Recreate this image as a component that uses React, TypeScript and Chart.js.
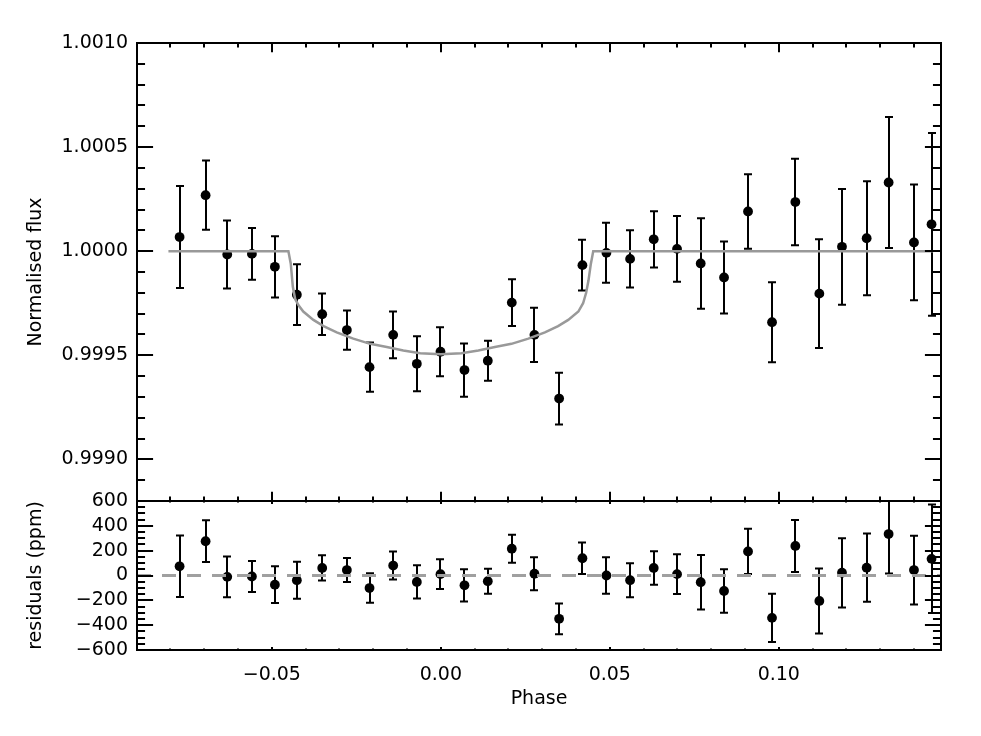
import React, { useEffect, useRef } from 'react';
import { Chart, registerables } from 'chart.js';

Chart.register(...registerables);

// ---- data ----
const phase = [-0.0773, -0.0696, -0.0632, -0.0559, -0.0491, -0.0426, -0.0351, -0.0278, -0.0211, -0.0141, -0.0071, -0.0001, 0.0070, 0.0139, 0.0210, 0.0277, 0.0350, 0.0419, 0.0490, 0.0560, 0.0630, 0.0699, 0.0769, 0.0838, 0.0909, 0.0980, 0.1049, 0.1120, 0.1187, 0.1260, 0.1325, 0.1400, 0.1452];
const flux = [1.000068, 1.000269, 0.999984, 0.999987, 0.999925, 0.999791, 0.999697, 0.999621, 0.999443, 0.999598, 0.999459, 0.999517, 0.999429, 0.999474, 0.999753, 0.999598, 0.999292, 0.999933, 0.999992, 0.999963, 1.000057, 1.000011, 0.999941, 0.999874, 1.000191, 0.999659, 1.000236, 0.999796, 1.000021, 1.000062, 1.00033, 1.000042, 1.000129];
const fluxErr = [0.000245, 0.000166, 0.000163, 0.000124, 0.000147, 0.000146, 0.0001, 0.000094, 0.000118, 0.000112, 0.000132, 0.000118, 0.000128, 0.000096, 0.000112, 0.00013, 0.000124, 0.000122, 0.000144, 0.000137, 0.000135, 0.000158, 0.000217, 0.000173, 0.000179, 0.000192, 0.000208, 0.000261, 0.000278, 0.000274, 0.000315, 0.000278, 0.000439];
const residual = [74, 276, -11, -8, -74, -38, 61, 44, -101, 80, -52, 11, -79, -46, 216, 14, -349, 139, 0, -38, 61, 11, -54, -125, 194, -341, 238, -205, 22, 63, 334, 44, 134];
const residualErr = [248, 168, 165, 124, 148, 149, 102, 97, 119, 113, 134, 120, 130, 100, 113, 133, 124, 126, 146, 137, 135, 160, 219, 175, 182, 194, 209, 262, 279, 275, 317, 277, 437];

const modelPhase = [-0.0806, -0.0451, -0.0444, -0.0438, -0.0431, -0.0421, -0.0407, -0.0377, -0.0347, -0.0308, -0.0259, -0.0209, -0.0160, -0.0111, -0.0061, 0.0000, 0.0061, 0.0111, 0.0160, 0.0209, 0.0259, 0.0308, 0.0347, 0.0377, 0.0407, 0.0421, 0.0430, 0.0437, 0.0444, 0.0451, 0.1457];
const modelFlux = [1.0, 1.0, 0.99994, 0.99983, 0.99977, 0.99974, 0.99971, 0.99967, 0.99964, 0.99961, 0.99958, 0.999555, 0.99954, 0.999523, 0.99951, 0.999505, 0.99951, 0.999523, 0.99954, 0.999555, 0.99958, 0.99961, 0.99964, 0.99967, 0.99971, 0.99975, 0.9998, 0.99986, 0.99994, 1.0, 1.0];

const xRange = [-0.0899, 0.148];
const fluxRange = [0.9988, 1.001];
const resRange = [-600, 600];

const xTickValues = [-0.05, 0, 0.05, 0.1];
const xTickLabels = ['\u22120.05', '0.00', '0.05', '0.10'];
const xMinorStep = 0.01;

const fluxTickValues = [0.999, 0.9995, 1.0, 1.0005, 1.001];
const fluxTickLabels = ['0.9990', '0.9995', '1.0000', '1.0005', '1.0010'];
const fluxMinorStep = 0.0001;

const resTickValues = [-600, -400, -200, 0, 200, 400, 600];
const resTickLabels = ['\u2212600', '\u2212400', '\u2212200', '0', '200', '400', '600'];
const resMinorStep = 50;

const FONT = { family: '"DejaVu Sans", sans-serif', size: 19 };

function stepValues(min: number, max: number, step: number): number[] {
  const out: number[] = [];
  const k0 = Math.ceil(min / step - 1e-6);
  const k1 = Math.floor(max / step + 1e-6);
  for (let k = k0; k <= k1; k++) out.push(k * step);
  return out;
}

function isMajor(v: number, majors: number[], step: number) {
  return majors.some((m) => Math.abs(m - v) < step * 1e-3);
}

const framePlugin = {
  id: 'idlFrame',
  beforeDatasetsDraw(chart: any) {
    const ctx = chart.ctx;
    const xs = chart.scales.x;
    const drawErr = (s: any, vals: number[], errs: number[]) => {
      ctx.save();
      ctx.beginPath();
      ctx.rect(xs.left, s.top, xs.right - xs.left, s.bottom - s.top);
      ctx.clip();
      ctx.strokeStyle = '#000';
      ctx.lineWidth = 2;
      const cap = 4;
      for (let i = 0; i < phase.length; i++) {
        const px = Math.round(xs.getPixelForValue(phase[i]));
        const y1 = s.getPixelForValue(vals[i] - errs[i]);
        const y2 = s.getPixelForValue(vals[i] + errs[i]);
        ctx.beginPath();
        ctx.moveTo(px, y1);
        ctx.lineTo(px, y2);
        ctx.moveTo(px - cap, y1);
        ctx.lineTo(px + cap, y1);
        ctx.moveTo(px - cap, y2);
        ctx.lineTo(px + cap, y2);
        ctx.stroke();
      }
      ctx.restore();
    };
    drawErr(chart.scales.y, flux, fluxErr);
    drawErr(chart.scales.yRes, residual, residualErr);
  },
  afterDraw(chart: any) {
    const ctx = chart.ctx;
    const xs = chart.scales.x;
    const left = chart.chartArea.left;
    const right = chart.chartArea.right;
    const w = right - left;
    const panels = [
      { s: chart.scales.y, majors: fluxTickValues, step: fluxMinorStep },
      { s: chart.scales.yRes, majors: resTickValues, step: resMinorStep },
    ];
    ctx.save();
    ctx.strokeStyle = '#000';
    ctx.lineWidth = 2;
    for (const p of panels) {
      const top = p.s.top;
      const bottom = p.s.bottom;
      const h = bottom - top;
      const xMaj = 0.02 * h;
      const yMaj = 0.02 * w;
      ctx.beginPath();
      for (const v of stepValues(xs.min, xs.max, xMinorStep)) {
        const px = Math.round(xs.getPixelForValue(v));
        const len = isMajor(v, xTickValues, xMinorStep) ? xMaj : xMaj / 2;
        ctx.moveTo(px, bottom);
        ctx.lineTo(px, bottom - len);
        ctx.moveTo(px, top);
        ctx.lineTo(px, top + len);
      }
      for (const v of stepValues(p.s.min, p.s.max, p.step)) {
        const py = Math.round(p.s.getPixelForValue(v));
        const len = isMajor(v, p.majors, p.step) ? yMaj : yMaj / 2;
        ctx.moveTo(left, py);
        ctx.lineTo(left + len, py);
        ctx.moveTo(right, py);
        ctx.lineTo(right - len, py);
      }
      ctx.stroke();
      ctx.strokeRect(left, top, w, h);
    }
    ctx.restore();
  },
};

export default function App() {
  const ref = useRef<HTMLCanvasElement | null>(null);

  useEffect(() => {
    if (!ref.current) return;
    const pts = (ys: number[]) => phase.map((p, i) => ({ x: p, y: ys[i] }));
    const commonTicks = { color: '#000', font: FONT, autoSkip: false, maxRotation: 0 };
    const chart = new Chart(ref.current, {
      type: 'scatter',
      data: {
        datasets: [
          {
            type: 'line',
            data: modelPhase.map((p, i) => ({ x: p, y: modelFlux[i] })),
            yAxisID: 'y',
            borderColor: '#999999',
            borderWidth: 2.5,
            pointRadius: 0,
            showLine: true,
            tension: 0,
            order: 0,
          } as any,
          {
            data: pts(flux),
            yAxisID: 'y',
            pointRadius: 4.9,
            backgroundColor: '#000',
            borderWidth: 0,
            order: 1,
          },
          {
            data: pts(residual),
            yAxisID: 'yRes',
            pointRadius: 4.9,
            backgroundColor: '#000',
            borderWidth: 0,
            order: 1,
          },
          {
            type: 'line',
            data: [
              { x: xRange[0], y: 0 },
              { x: xRange[1], y: 0 },
            ],
            yAxisID: 'yRes',
            borderColor: '#a0a0a0',
            borderWidth: 3,
            borderDash: [14, 11],
            pointRadius: 0,
            showLine: true,
            order: 0,
          } as any,
        ],
      },
      options: {
        animation: false,
        responsive: false,
        layout: { padding: { left: 0, right: 32, top: 35, bottom: 0 } },
        plugins: { legend: { display: false }, tooltip: { enabled: false } },
        scales: {
          x: {
            type: 'linear',
            position: 'bottom',
            min: xRange[0],
            max: xRange[1],
            afterBuildTicks: (s: any) => {
              s.ticks = xTickValues.map((v) => ({ value: v }));
            },
            ticks: { ...commonTicks, padding: 14, callback: (_v: any, i: number) => xTickLabels[i] },
            grid: { display: false, drawTicks: false },
            border: { display: false },
            title: { display: true, text: 'Phase', color: '#000', font: FONT, padding: { top: 0, bottom: 18 } },
            afterFit: (s: any) => {
              s.height = 78;
            },
          },
          y: {
            type: 'linear',
            position: 'left',
            stack: 'panels',
            stackWeight: 458,
            weight: 2,
            min: fluxRange[0],
            max: fluxRange[1],
            afterBuildTicks: (s: any) => {
              s.ticks = fluxTickValues.map((v) => ({ value: v }));
            },
            ticks: { ...commonTicks, padding: 9, callback: (_v: any, i: number) => fluxTickLabels[i] },
            grid: { display: false, drawTicks: false },
            border: { display: false },
            title: { display: true, text: 'Normalised flux', color: '#000', font: FONT, padding: { top: 17, bottom: 0 } },
            afterFit: (s: any) => {
              s.width = 129;
            },
          },
          yRes: {
            type: 'linear',
            position: 'left',
            stack: 'panels',
            stackWeight: 149,
            weight: 1,
            min: resRange[0],
            max: resRange[1],
            afterBuildTicks: (s: any) => {
              s.ticks = resTickValues.map((v) => ({ value: v }));
            },
            ticks: { ...commonTicks, padding: 9, callback: (_v: any, i: number) => resTickLabels[i] },
            grid: { display: false, drawTicks: false },
            border: { display: false },
            title: { display: true, text: 'residuals (ppm)', color: '#000', font: FONT, padding: { top: 17, bottom: 0 } },
            afterFit: (s: any) => {
              s.width = 129;
            },
          },
        } as any,
      },
      plugins: [framePlugin],
    });
    return () => chart.destroy();
  }, []);

  return (
    <div style={{ width: 965, height: 720 }}>
      <canvas ref={ref} width={965} height={720} style={{ display: 'block' }} />
    </div>
  );
}
